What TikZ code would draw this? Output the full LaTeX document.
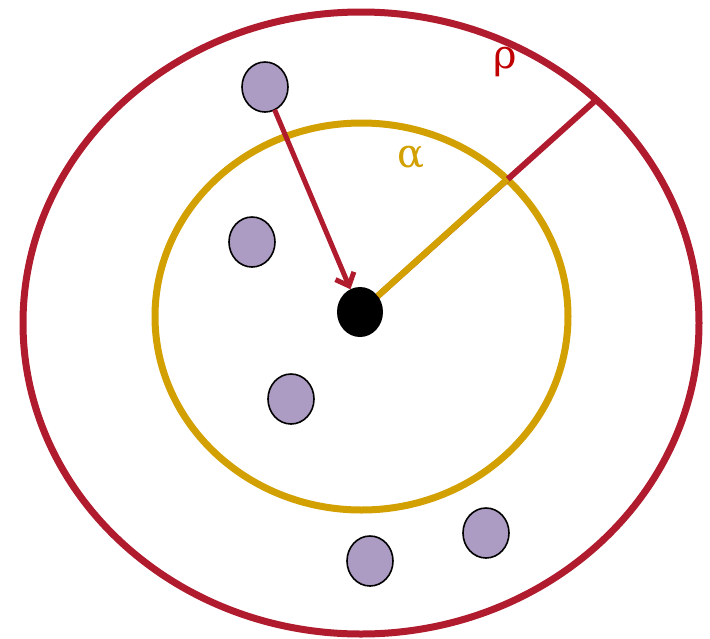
\documentclass[tikz,border=0pt]{standalone}
\usepackage{fontspec}
\setmainfont{DejaVu Serif}
\usetikzlibrary{shapes.geometric,arrows.meta}
\definecolor{cred}{HTML}{B01B2E}
\definecolor{cgold}{HTML}{D2A000}
\definecolor{cpurple}{HTML}{AC9BC2}
\definecolor{clabred}{HTML}{C00000}
\begin{document}
\begin{tikzpicture}[x=1pt,y=-1pt,
  ring/.style={ellipse,draw,line width=7pt,inner sep=0pt,outer sep=0pt},
  particle/.style={ellipse,draw=black,line width=1.6pt,fill=cpurple,minimum width=46pt,minimum height=50pt,inner sep=0pt,outer sep=0pt},
  lbl/.style={font=\fontsize{40}{44}\selectfont,inner sep=0pt}]
\useasboundingbox (0,0) rectangle (710,638);
\node[ring,draw=cred,minimum width=676pt,minimum height=622pt] (outer) at (361,323) {};
\node[ring,draw=cgold,minimum width=413pt,minimum height=387pt] (inner) at (361.5,316.5) {};
\coordinate (rp) at (597,99);
\coordinate (ai) at (507.5,179);
\coordinate (cc) at (360,312);
\draw[cred,line width=6pt] (cc) -- (rp);
\node[ellipse,fill=black,minimum width=46pt,minimum height=50pt,inner sep=0pt,outer sep=0pt] (c) at (cc) {};
\draw[cgold,line width=6.5pt] (c) -- (ai);
\node[particle] (p1) at (265,87) {};
\node[particle] (p2) at (252,242) {};
\node[particle] (p3) at (291,399) {};
\node[particle] (p4) at (370,561) {};
\node[particle] (p5) at (486,533) {};
\draw[cred,line width=5pt,-{Straight Barb[length=11pt,width=20pt]}] (p1) -- (c);
\node[lbl,text=clabred] (rho) at (505,62) {ρ};
\node[lbl,text=cgold] (alpha) at (411,157) {α};
\end{tikzpicture}
\end{document}
